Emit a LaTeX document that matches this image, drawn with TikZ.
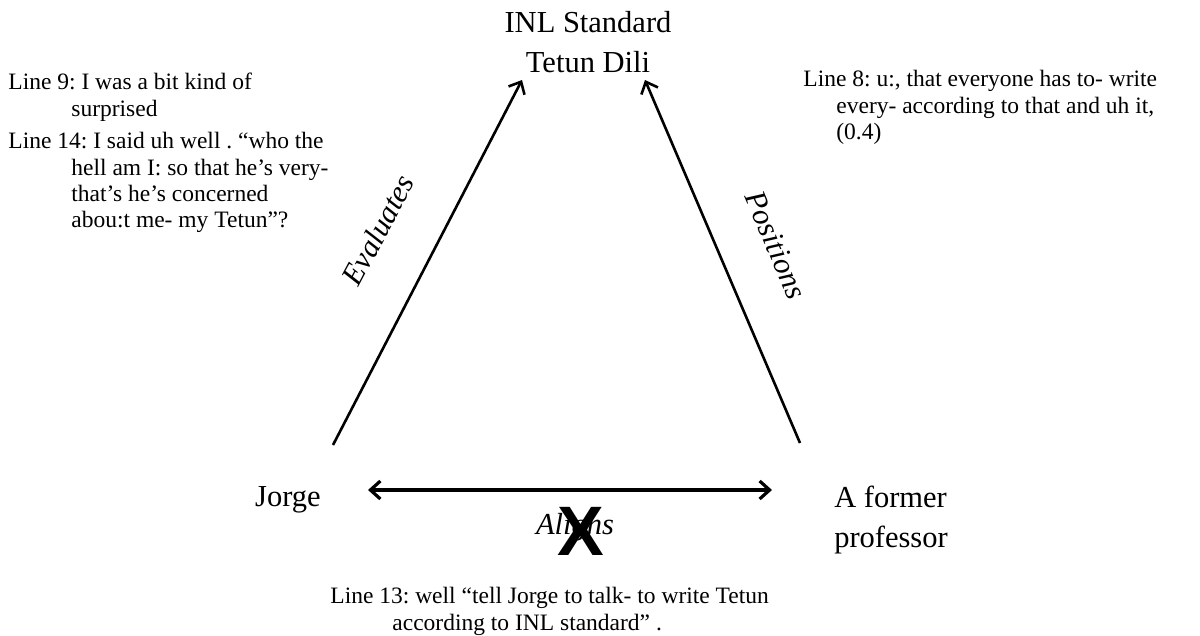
\documentclass[tikz,border=0pt]{standalone}
\usepackage{fontspec}
\setmainfont{Liberation Serif}
\newfontfamily\xfont{Liberation Sans}
\usetikzlibrary{arrows.meta,calc}
\frenchspacing
\begin{document}
\begin{tikzpicture}[x=0.5pt,y=-0.5pt,
  big/.style={font=\fontsize{15.25}{20}\selectfont, inner sep=0pt},
  small/.style={font=\fontsize{11.75}{13.2}\selectfont, inner sep=0pt, align=left, anchor=north west},
  rel/.style={font=\fontsize{15.25}{18}\selectfont\itshape, inner sep=0pt},
  conn/.style={line width=1.3pt, -{Straight Barb[length=5pt,width=9pt,line width=1.3pt]}},
  dconn/.style={line width=1.6pt, {Straight Barb[length=5pt,width=9pt,line width=1.6pt]}-{Straight Barb[length=5pt,width=9pt,line width=1.6pt]}}]
\useasboundingbox (0,0) rectangle (1200,636);
\frenchspacing
% main nodes
\node[big, align=center] (top) at (588,42) {INL Standard\\Tetun Dili};
\node[big] (jorge) at (288,500) {Jorge};
\node[big, align=left] (prof) at (891,520) {A former\\professor};
% connectors
\draw[conn] ($(jorge.center)+(45,-55)$) -- ($(top.center)+(-66,38)$);
\draw[conn] ($(prof.center)+(-91,-77)$) -- ($(top.center)+(57,38)$);
\draw[dconn] ($(jorge.center)+(80,-10)$) -- ($(prof.center)+(-119,-30)$);
% relation labels
\node[rel, rotate=62] (eval) at (378,230) {Evaluates};
\node[rel, rotate=-67] (pos) at (776,245) {Positions};
\node[rel] (align) at (575,527) {Aligns};
\node[inner sep=0pt, font=\xfont\bfseries\fontsize{35}{35}\selectfont] (cross) at (581,531) {X};
% quotes
\node[small] (q9) at (8,73) {Line 9: I was a bit kind of\\\hspace*{31.5pt}surprised};
\node[small] (q14) at (8,132) {Line 14: I said uh well . “who the\\\hspace*{31.5pt}hell am I: so that he’s very-\\\hspace*{31.5pt}that’s he’s concerned\\\hspace*{31.5pt}abou:t me- my Tetun”?};
\node[small] (q8) at (803,70) {Line 8: u:, that everyone has to- write\\\hspace*{16.5pt}every- according to that and uh it,\\\hspace*{16.5pt}(0.4)};
\node[small] (q13) at (330,587) {Line 13: well “tell Jorge to talk- to write Tetun\\\hspace*{31pt}according to INL standard” .};
\end{tikzpicture}
\end{document}
